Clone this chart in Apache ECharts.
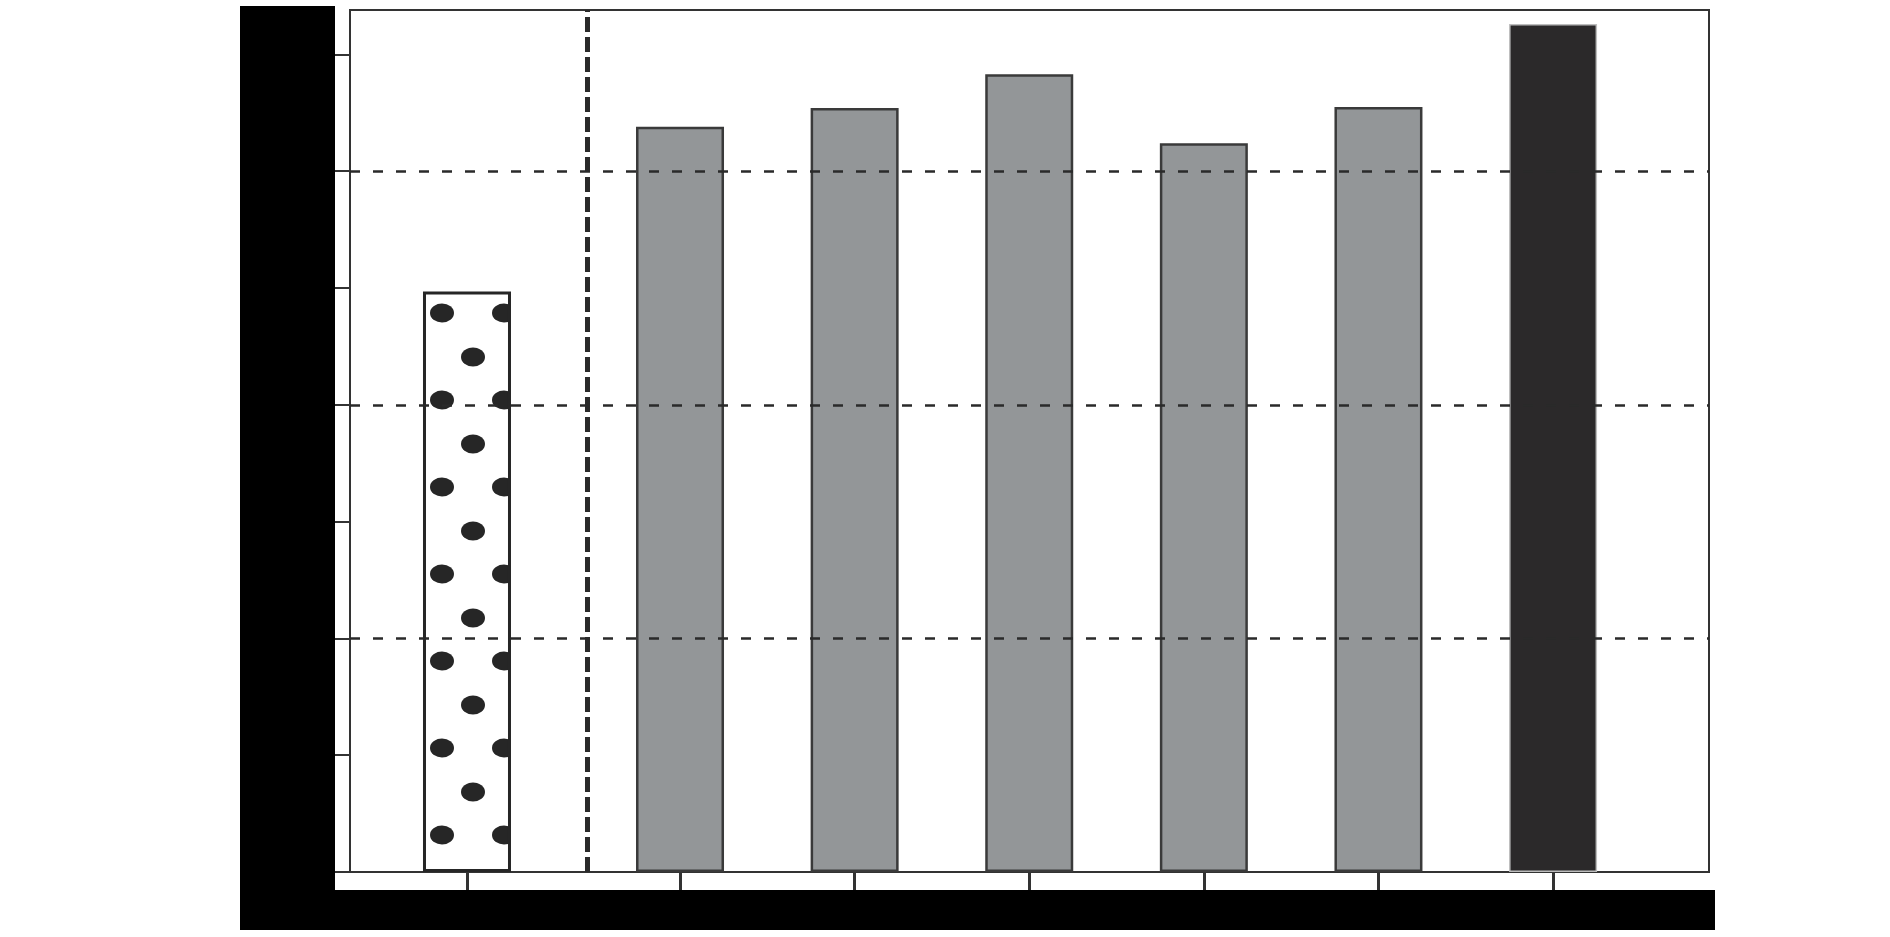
<!DOCTYPE html>
<html><head><meta charset="utf-8">
<script src="https://cdn.jsdelivr.net/npm/echarts@6/dist/echarts.min.js"></script>
<style>html,body{margin:0;padding:0;background:#fff}#c{width:1890px;height:937px}</style>
</head><body><div id="c"></div>
<script>
// ---- data ----
const categories = ['A', 'B', 'C', 'D', 'E', 'F', 'G'];
const positions = [0, 1.22, 2.22, 3.22, 4.22, 5.22, 6.22];
const values = [49.7, 63.8, 65.4, 68.3, 62.4, 65.5, 72.6];
const separatorX = 0.687;
const yTicks = [0, 10, 20, 30, 40, 50, 60, 70];
const gridLineValues = [20, 40, 60];
const xMin = -0.67, xMax = 7.113;
const yMin = 0, yMax = 73.8;

// ---- dotted pattern tile ----
const tile = document.createElement('canvas');
tile.width = 62; tile.height = 87;
const tctx = tile.getContext('2d');
tctx.fillStyle = '#ffffff';
tctx.fillRect(0, 0, 62, 87);
tctx.fillStyle = '#262626';
const dotCenters = [[8, 52], [39, 9]];
for (const [dx, dy] of dotCenters) {
  for (const ox of [-62, 0, 62]) for (const oy of [-87, 0, 87]) {
    tctx.beginPath();
    tctx.ellipse(dx + ox, dy + oy, 12, 9.5, 0, 0, Math.PI * 2);
    tctx.fill();
  }
}

function styleFor(i) {
  if (i === 0) return { color: { image: tile, repeat: 'repeat' }, borderColor: '#262626', borderWidth: 3 };
  if (i === values.length - 1) return { color: '#2b292a', borderColor: '#bdbdbd', borderWidth: 1.5 };
  return { color: '#939698', borderColor: '#3a3a3a', borderWidth: 2.5 };
}

const chart = echarts.init(document.getElementById('c'), null, { renderer: 'canvas' });
chart.setOption({
  animation: false,
  backgroundColor: '#ffffff',
  grid: { left: 350, top: 10, right: 181, bottom: 65, show: true, borderColor: '#333333', borderWidth: 2, backgroundColor: 'transparent' },
  xAxis: {
    type: 'value', min: xMin, max: xMax,
    axisLine: { show: true, onZero: false, lineStyle: { color: '#333333', width: 2 } },
    axisTick: { show: true, customValues: positions, length: 18, inside: false, lineStyle: { color: '#333333', width: 3 } },
    axisLabel: { show: false },
    splitLine: { show: false }
  },
  yAxis: {
    type: 'value', min: yMin, max: yMax,
    axisLine: { show: true, onZero: false, lineStyle: { color: '#333333', width: 2 } },
    axisTick: { show: true, customValues: yTicks, length: 16, inside: false, lineStyle: { color: '#333333', width: 2 } },
    axisLabel: { show: false },
    splitLine: { show: false }
  },
  series: [{
    type: 'bar',
    barWidth: 88,
    data: positions.map((x, i) => ({ name: categories[i], value: [x, values[i]], itemStyle: styleFor(i) })),
    markLine: {
      silent: true, symbol: 'none', label: { show: false }, animation: false,
      data: [
        ...gridLineValues.map(v => ({ yAxis: v, lineStyle: { type: [10, 13], width: 2.5, color: '#2a2a2a' } })),
        { xAxis: separatorX, lineStyle: { type: [15, 5], width: 5, color: '#2a2a2a' } }
      ]
    }
  }],
  graphic: [
    { type: 'rect', z: 100, shape: { x: 240, y: 6, width: 95, height: 924 }, style: { fill: '#000000' } },
    { type: 'rect', z: 100, shape: { x: 240, y: 890, width: 1475, height: 40 }, style: { fill: '#000000' } }
  ]
});
</script>
</body></html>
